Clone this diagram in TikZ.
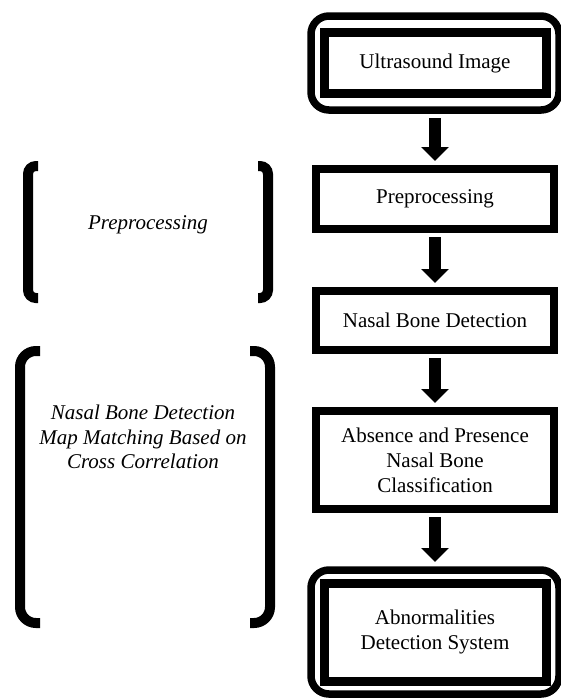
\documentclass[tikz,border=0pt]{standalone}
\usepackage{fontspec}
\setmainfont{Liberation Serif}
\usetikzlibrary{arrows.meta,fit}
\begin{document}
\begin{tikzpicture}[x=0.5pt,y=-0.5pt,
  stagebox/.style={draw, line width=3.75pt, minimum width=119pt, outer sep=0pt, align=center, font=\fontsize{10.5}{12.5}\selectfont},
  framebox/.style={draw, line width=3.75pt, rounded corners=9pt, outer sep=0pt, inner xsep=6.5pt},
  flowarrow/.style={line width=6pt, -{Triangle[width=13.5pt,length=7pt]}, shorten <=4pt, shorten >=4pt},
  bracketline/.style={line width=5pt},
  sidelabel/.style={align=center, font=\fontsize{10.5}{12.25}\selectfont\itshape}]
\useasboundingbox (0,0) rectangle (561,698);

% Main flow on the right
\node[stagebox, line width=4.5pt, minimum width=111pt, minimum height=30.5pt] (img) at (435,63) {Ultrasound Image};
\node[framebox, inner ysep=8.25pt, fit=(img)] (imgframe) {};
\node[stagebox, minimum height=30pt] (pre) at (435,199) {Preprocessing};
\node[stagebox, minimum height=29.5pt] (nbd) at (435,320.5) {Nasal Bone Detection};
\node[stagebox, minimum height=49pt] (cls) at (435,460) {Absence and Presence\\Nasal Bone\\Classification};
\node[stagebox, line width=4.5pt, minimum width=111pt, minimum height=49pt] (ads) at (435,632) {Abnormalities\\Detection System};
\node[framebox, inner ysep=6.5pt, fit=(ads)] (adsframe) {};

\draw[flowarrow] (imgframe) -- (pre);
\draw[flowarrow] (pre) -- (nbd);
\draw[flowarrow] (nbd) -- (cls);
\draw[flowarrow] (cls) -- (adsframe);

% Bracketed notes on the left
\node[sidelabel] (preLabel) at (148,225) {Preprocessing};
\draw[bracketline, rounded corners=4pt] (38,166) -- (28,166) -- (28,298) -- (38,298);
\draw[bracketline, rounded corners=4pt] (258,166) -- (268,166) -- (268,298) -- (258,298);

\node[sidelabel] (nasalLabel) at (143,437) {Nasal Bone Detection\\Map Matching Based on\\Cross Correlation};
\draw[bracketline, rounded corners=8pt] (40,351) -- (20,351) -- (20,623) -- (40,623);
\draw[bracketline, rounded corners=8pt] (250,351) -- (270,351) -- (270,623) -- (250,623);

\end{tikzpicture}
\end{document}
